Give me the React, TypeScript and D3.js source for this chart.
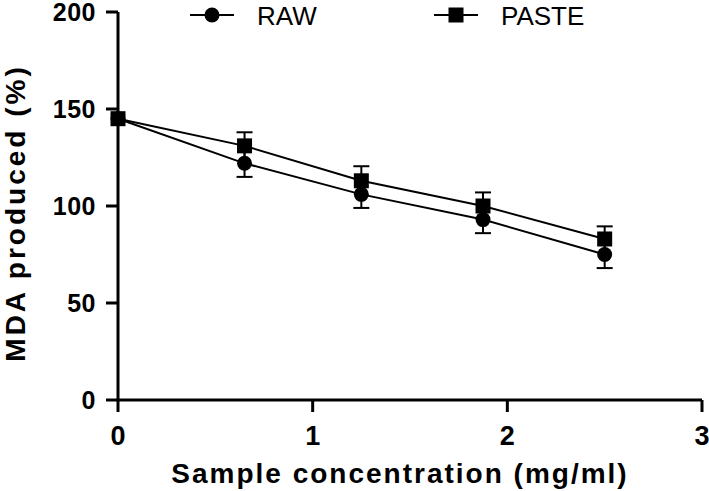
import * as d3 from "d3";

const conc = [0, 0.65, 1.25, 1.875, 2.5];
const rawValues = [145, 122, 106, 93, 75];
const rawErrors = [0, 7, 7, 7, 7];
const pasteValues = [145, 131, 113, 100, 83];
const pasteErrors = [0, 7, 7.5, 7, 6.5];
const xTicks = [0, 1, 2, 3];
const yTicks = [0, 50, 100, 150, 200];
const seriesNames = ["RAW", "PASTE"];

const width = 709;
const height = 491;
const font = "'Liberation Sans', Arial, Helvetica, sans-serif";

const App = () => {
  const x = d3.scaleLinear().domain([0, 3]).range([118, 702]);
  const y = d3.scaleLinear().domain([0, 200]).range([400, 12]);

  const line = d3
    .line<number>()
    .x((_, i) => x(conc[i]))
    .y((d) => y(d));

  const series = [
    { name: seriesNames[0], values: rawValues, errors: rawErrors, shape: "circle" },
    { name: seriesNames[1], values: pasteValues, errors: pasteErrors, shape: "square" },
  ];

  const marker = (shape: string, cx: number, cy: number, key: string) =>
    shape === "circle" ? (
      <circle key={key} cx={cx} cy={cy} r={7.5} fill="#000" />
    ) : (
      <rect key={key} x={cx - 7.5} y={cy - 7.5} width={15} height={15} fill="#000" />
    );

  return (
    <svg
      width={width}
      height={height}
      viewBox={`0 0 ${width} ${height}`}
      style={{ position: "absolute", left: 0, top: 0, background: "#fff" }}
    >
      {/* axes */}
      <g stroke="#000" strokeWidth={3} fill="none">
        <line x1={x(0)} x2={x(0)} y1={y(200)} y2={y(0)} />
        <line x1={x(0)} x2={x(3)} y1={y(0)} y2={y(0)} />
        {yTicks.map((t) => (
          <line key={"yt" + t} x1={x(0) - 12} x2={x(0)} y1={y(t)} y2={y(t)} />
        ))}
        {xTicks.map((t) => (
          <line key={"xt" + t} x1={x(t)} x2={x(t)} y1={y(0)} y2={y(0) + 12} />
        ))}
      </g>
      {yTicks.map((t) => (
        <text
          key={"yl" + t}
          x={x(0) - 22}
          y={y(t) + 9}
          textAnchor="end"
          fontFamily={font}
          fontWeight="bold"
          fontSize={25}
          letterSpacing={0.5}
        >
          {t}
        </text>
      ))}
      {xTicks.map((t) => (
        <text
          key={"xl" + t}
          x={x(t)}
          y={445}
          textAnchor="middle"
          fontFamily={font}
          fontWeight="bold"
          fontSize={27}
        >
          {t}
        </text>
      ))}
      <text
        x={400}
        y={483}
        textAnchor="middle"
        fontFamily={font}
        fontWeight="bold"
        fontSize={28}
        letterSpacing={2}
      >
        Sample concentration (mg/ml)
      </text>
      <text
        transform={`translate(25, 213) rotate(-90)`}
        textAnchor="middle"
        fontFamily={font}
        fontWeight="bold"
        fontSize={28}
        letterSpacing={3}
      >
        MDA produced (%)
      </text>

      {/* series */}
      {series.map((s) => (
        <g key={s.name}>
          <path d={line(s.values) ?? ""} fill="none" stroke="#000" strokeWidth={2} />
          {s.values.map((v, i) =>
            s.errors[i] > 0 ? (
              <g key={"e" + i} stroke="#000" strokeWidth={2}>
                <line x1={x(conc[i])} x2={x(conc[i])} y1={y(v - s.errors[i])} y2={y(v + s.errors[i])} />
                {s.name === "PASTE" ? (
                  <line x1={x(conc[i]) - 8} x2={x(conc[i]) + 8} y1={y(v + s.errors[i])} y2={y(v + s.errors[i])} />
                ) : (
                  <line x1={x(conc[i]) - 8} x2={x(conc[i]) + 8} y1={y(v - s.errors[i])} y2={y(v - s.errors[i])} />
                )}
              </g>
            ) : null
          )}
          {s.values.map((v, i) => marker(s.shape, x(conc[i]), y(v), "m" + i))}
        </g>
      ))}

      {/* legend */}
      {series.map((s, i) => {
        const lx = i === 0 ? 212 : 456;
        return (
          <g key={"lg" + s.name}>
            <line x1={lx - 22} x2={lx + 22} y1={15} y2={15} stroke="#000" strokeWidth={2} />
            {marker(s.shape, lx, 15, "lm")}
            <text x={lx + 45} y={25} fontFamily={font} fontSize={26}>
              {s.name}
            </text>
          </g>
        );
      })}
    </svg>
  );
};

export default App;
